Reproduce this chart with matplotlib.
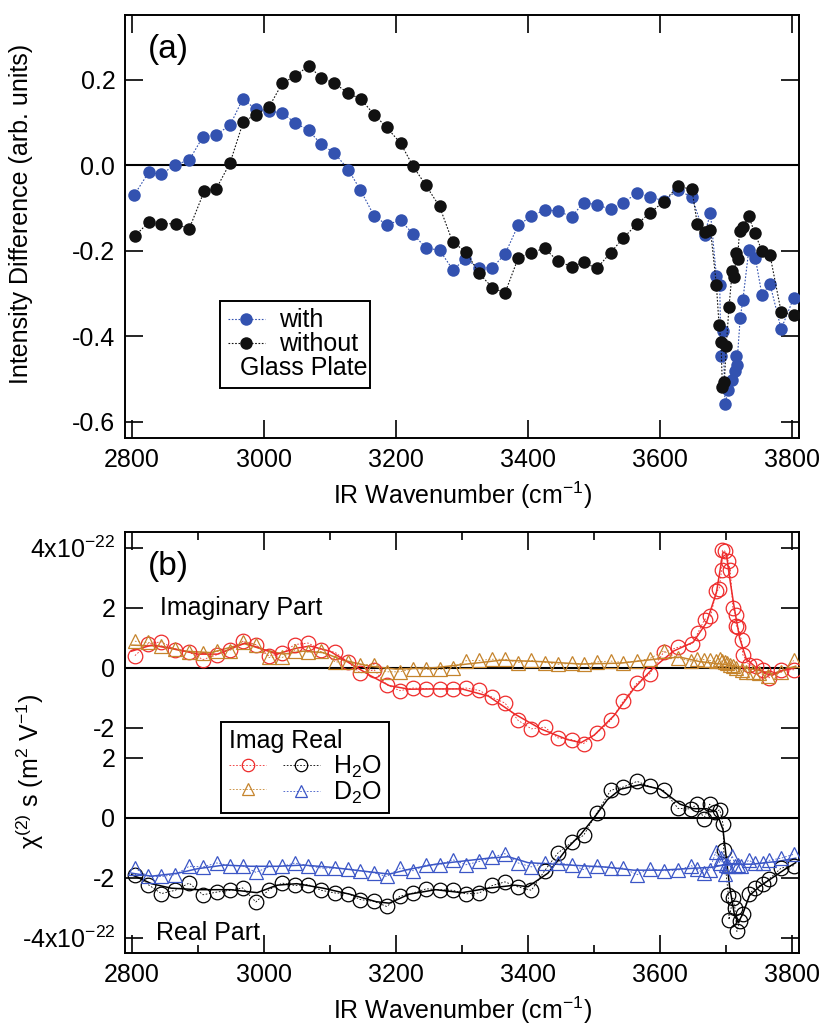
import numpy as np
import matplotlib
matplotlib.use('Agg')
import matplotlib.pyplot as plt
from matplotlib.lines import Line2D
from matplotlib.ticker import MultipleLocator, FormatStrFormatter

plt.rcParams['font.family'] = ['Liberation Sans', 'DejaVu Sans']
plt.rcParams['mathtext.fontset'] = 'custom'
plt.rcParams['mathtext.rm'] = 'Liberation Sans'
plt.rcParams['mathtext.it'] = 'Liberation Sans:italic'
plt.rcParams['mathtext.bf'] = 'Liberation Sans:bold'
plt.rcParams['axes.unicode_minus'] = False

# ---------------- panel (a): intensity difference ----------------
with_x = [2804, 2826, 2845, 2866, 2887, 2908, 2928, 2949, 2968, 2988, 3008, 3028, 3047, 3068,
          3087, 3107, 3128, 3146, 3167, 3186, 3207, 3226, 3246, 3266, 3286, 3305, 3326, 3346,
          3365, 3385, 3405, 3425, 3445, 3466, 3484, 3504, 3525, 3544, 3565, 3584, 3605, 3627,
          3648, 3667, 3676, 3685, 3690, 3692, 3695, 3698, 3703, 3708, 3713, 3715, 3716, 3721,
          3725, 3734, 3744, 3754, 3766, 3783, 3802]
with_y = [-0.069, -0.016, -0.021, 0.002, 0.012, 0.067, 0.072, 0.094, 0.155, 0.132, 0.127, 0.123,
          0.100, 0.082, 0.049, 0.029, -0.010, -0.057, -0.118, -0.139, -0.128, -0.161, -0.194,
          -0.198, -0.244, -0.220, -0.239, -0.239, -0.208, -0.140, -0.119, -0.104, -0.107,
          -0.120, -0.087, -0.092, -0.103, -0.087, -0.065, -0.073, -0.083, -0.057, -0.075,
          -0.162, -0.112, -0.259, -0.280, -0.447, -0.387, -0.558, -0.525, -0.502, -0.482,
          -0.447, -0.467, -0.357, -0.316, -0.198, -0.217, -0.304, -0.277, -0.383, -0.310]

without_x = [2805, 2826, 2845, 2867, 2887, 2910, 2928, 2949, 2969, 2988, 3008, 3028, 3047, 3068,
             3087, 3107, 3128, 3147, 3167, 3186, 3207, 3226, 3245, 3266, 3286, 3306, 3326, 3346,
             3365, 3385, 3405, 3425, 3445, 3466, 3484, 3504, 3525, 3544, 3565, 3584, 3605, 3627,
             3648, 3656, 3667, 3676, 3685, 3689, 3692, 3694, 3697, 3700, 3704, 3709, 3712, 3715,
             3717, 3720, 3725, 3734, 3743, 3754, 3766, 3783, 3802]
without_y = [-0.165, -0.133, -0.136, -0.137, -0.149, -0.060, -0.055, 0.006, 0.102, 0.119, 0.137,
             0.192, 0.209, 0.233, 0.205, 0.192, 0.169, 0.155, 0.119, 0.089, 0.052, -0.002,
             -0.046, -0.096, -0.180, -0.202, -0.253, -0.286, -0.299, -0.217, -0.204, -0.194,
             -0.224, -0.237, -0.227, -0.241, -0.204, -0.170, -0.137, -0.112, -0.085, -0.049,
             -0.056, -0.137, -0.157, -0.151, -0.280, -0.373, -0.414, -0.518, -0.506, -0.422,
             -0.332, -0.247, -0.261, -0.204, -0.220, -0.153, -0.144, -0.119, -0.158, -0.200,
             -0.209, -0.343, -0.351]

# ---------------- panel (b): chi(2) spectra (units of 1e-22 m^2/V) ----------------
wn = [2805, 2825, 2845, 2866, 2887, 2908, 2929, 2949, 2968, 2988, 3008, 3028, 3047, 3067, 3087,
      3108, 3128, 3146, 3167, 3186, 3206, 3226, 3246, 3266, 3286, 3306, 3326, 3346, 3365, 3385,
      3405, 3425, 3445, 3466, 3484, 3504, 3525, 3544, 3565, 3584, 3605, 3627]

imag_h2o_x = wn + [3648, 3657, 3667, 3676, 3685, 3689, 3693, 3694, 3698, 3703, 3706, 3710, 3714,
                   3715, 3718, 3723, 3725, 3734, 3745, 3756, 3765, 3783, 3803]
imag_h2o_y = [0.40, 0.80, 0.86, 0.60, 0.52, 0.27, 0.43, 0.60, 0.88, 0.77, 0.38, 0.49, 0.77, 0.82,
              0.60, 0.51, 0.18, -0.18, -0.07, -0.57, -0.77, -0.68, -0.70, -0.71, -0.71, -0.68,
              -0.76, -0.99, -1.18, -1.76, -2.04, -1.98, -2.34, -2.40, -2.53, -2.18, -1.76, -1.12,
              -0.51, -0.21, 0.51, 0.68,
              0.79, 1.16, 1.60, 1.71, 2.54, 2.62, 3.27, 3.91, 3.88, 3.54, 3.24, 1.99, 1.77, 1.40,
              1.34, 0.91, 0.43, 0.10, 0.04, -0.07, -0.34, -0.07, -0.07]

imag_d2o_x = wn + [3647, 3656, 3666, 3675, 3684, 3690, 3693, 3698, 3701, 3705, 3710, 3715, 3723,
                   3730, 3740, 3750, 3763, 3783, 3802]
imag_d2o_y = [0.88, 0.84, 0.73, 0.63, 0.52, 0.48, 0.54, 0.57, 0.87, 0.76, 0.34, 0.34, 0.57, 0.52,
              0.54, 0.19, 0.19, 0.10, 0.10, -0.14, -0.14, -0.03, -0.06, -0.06, 0.00, 0.23, 0.24,
              0.28, 0.28, 0.17, 0.24, 0.17, 0.11, 0.14, 0.11, 0.19, 0.22, 0.17, 0.22, 0.30, 0.55,
              0.32,
              0.21, 0.29, 0.27, 0.24, 0.21, 0.29, 0.21, 0.18, 0.16, 0.10, 0.04, -0.02, -0.07,
              -0.13, -0.13, -0.18, -0.29, -0.16, 0.24]

real_h2o_x = wn + [3647, 3656, 3666, 3675, 3683, 3690, 3695, 3696, 3703, 3704, 3710, 3713, 3716,
                   3720, 3725, 3735, 3743, 3755, 3765, 3783, 3802]
real_h2o_y = [-1.90, -2.23, -2.53, -2.42, -2.18, -2.57, -2.48, -2.42, -2.34, -2.81, -2.40, -2.18,
              -2.26, -2.23, -2.42, -2.51, -2.53, -2.73, -2.79, -2.96, -2.62, -2.51, -2.37, -2.40,
              -2.42, -2.54, -2.51, -2.26, -2.14, -2.31, -2.42, -1.77, -1.18, -0.82, -0.59, 0.16,
              0.91, 1.02, 1.21, 1.04, 0.91, 0.31,
              0.29, 0.47, -0.04, 0.45, 0.20, 0.26, -0.20, -1.07, -2.57, -3.40, -2.68, -3.01,
              -3.79, -3.43, -3.20, -2.55, -2.34, -2.22, -2.04, -1.68, -1.60]

real_d2o_x = wn + [3647, 3656, 3666, 3675, 3684, 3690, 3692, 3698, 3700, 3703, 3709, 3713, 3717,
                   3722, 3734, 3743, 3755, 3765, 3783, 3802]
real_d2o_y = [-1.68, -1.96, -1.96, -1.90, -1.62, -1.64, -1.51, -1.60, -1.60, -1.82, -1.64, -1.62,
              -1.51, -1.60, -1.68, -1.68, -1.71, -1.77, -1.84, -1.96, -1.68, -1.77, -1.57, -1.57,
              -1.40, -1.57, -1.46, -1.31, -1.20, -1.51, -1.64, -1.51, -1.51, -1.57, -1.73, -1.60,
              -1.68, -1.68, -1.90, -1.70, -1.77, -1.75,
              -1.60, -1.72, -1.85, -1.73, -1.15, -1.51, -1.34, -1.88, -1.57, -1.60, -1.27, -1.60,
              -1.57, -1.60, -1.42, -1.52, -1.52, -1.42, -1.35, -1.22]

# fitted curves
fit_imag_h2o_x = [2800, 2830, 2860, 2900, 2930, 2972, 3000, 3020, 3050, 3070, 3100, 3130, 3160,
                  3190, 3220, 3260, 3300, 3340, 3380, 3420, 3460, 3480, 3500, 3530, 3560, 3590,
                  3620, 3650, 3670, 3685, 3695, 3700, 3705, 3712, 3720, 3730, 3745, 3760, 3770,
                  3785, 3805]
fit_imag_h2o_y = [0.55, 0.75, 0.65, 0.45, 0.45, 0.82, 0.60, 0.45, 0.65, 0.72, 0.55, 0.15, -0.25,
                  -0.60, -0.72, -0.71, -0.71, -0.95, -1.55, -2.05, -2.40, -2.50, -2.25, -1.60,
                  -0.70, 0.00, 0.55, 0.85, 1.50, 2.50, 3.85, 3.80, 3.00, 2.00, 1.00, 0.30, 0.00,
                  -0.20, -0.25, -0.10, 0.00]

fit_imag_d2o_x = [2800, 2840, 2880, 2920, 2970, 3000, 3030, 3060, 3090, 3120, 3160, 3200, 3260,
                  3300, 3360, 3420, 3480, 3540, 3600, 3630, 3660, 3700, 3740, 3770, 3805]
fit_imag_d2o_y = [0.75, 0.72, 0.55, 0.50, 0.80, 0.60, 0.45, 0.55, 0.50, 0.25, 0.05, -0.05, 0.00,
                  0.10, 0.25, 0.20, 0.12, 0.15, 0.30, 0.35, 0.20, 0.10, -0.05, -0.20, 0.05]

fit_real_h2o_x = [2800, 2830, 2860, 2900, 2950, 2990, 3020, 3050, 3090, 3130, 3170, 3190, 3220,
                  3260, 3300, 3340, 3380, 3400, 3430, 3460, 3480, 3500, 3520, 3540, 3570, 3600,
                  3630, 3650, 3670, 3685, 3695, 3705, 3712, 3718, 3725, 3735, 3750, 3770, 3790,
                  3805]
fit_real_h2o_y = [-1.90, -2.20, -2.35, -2.40, -2.40, -2.50, -2.25, -2.20, -2.35, -2.55, -2.80,
                  -2.85, -2.55, -2.40, -2.50, -2.35, -2.25, -2.30, -1.85, -1.00, -0.55, 0.00,
                  0.60, 0.95, 1.10, 0.95, 0.45, 0.30, 0.30, 0.20, -0.40, -2.30, -3.20, -3.50,
                  -3.20, -2.60, -2.30, -2.00, -1.70, -1.50]

fit_real_d2o_x = [2800, 2830, 2870, 2900, 2940, 2980, 3020, 3060, 3100, 3150, 3190, 3220, 3260,
                  3300, 3340, 3370, 3400, 3440, 3480, 3520, 3560, 3600, 3640, 3680, 3700, 3740,
                  3780, 3805]
fit_real_d2o_y = [-1.85, -1.95, -1.85, -1.70, -1.58, -1.62, -1.62, -1.58, -1.65, -1.78, -1.88,
                  -1.72, -1.55, -1.45, -1.35, -1.30, -1.50, -1.55, -1.60, -1.65, -1.75, -1.75,
                  -1.70, -1.65, -1.55, -1.55, -1.45, -1.35]

real_offset = -5.0   # real part is drawn 5 units below the imaginary part
b_ticks = [4, 2, 0, -2, -3, -5, -7, -9]
b_ticklabels = ['4x10$^{-22}$', '2', '0', '-2', '2', '0', '-2', '-4x10$^{-22}$']

RED = '#ee2b2b'
ORANGE = '#c5842c'
BLUE_A = '#3352b0'
BLUE_B = '#3b56c6'
FS = 18


def style_axes(ax):
    ax.tick_params(which='both', direction='in', top=True, right=True, width=1.2,
                   labelsize=FS, pad=7)
    ax.tick_params(which='major', length=13)
    ax.tick_params(which='minor', length=6)
    for s in ax.spines.values():
        s.set_linewidth(1.4)


fig = plt.figure(figsize=(8.22, 10.25), dpi=100)
ax1 = fig.add_axes([125 / 822, 1 - 438 / 1025, 674 / 822, 423 / 1025])
ax2 = fig.add_axes([125 / 822, 1 - 953 / 1025, 674 / 822, 421 / 1025])

# ---- (a)
ax1.axhline(0, color='k', lw=1.5, zorder=1)
l_with, = ax1.plot(with_x, with_y, ls=(0, (1.5, 1.5)), lw=0.8, color=BLUE_A, marker='o',
                   ms=9, mec='none', zorder=3)
l_without, = ax1.plot(without_x, without_y, ls=(0, (1.5, 1.5)), lw=0.8, color='#111111',
                      marker='o', ms=9, mec='none', zorder=4)
ax1.set_xlim(2790, 3810)
ax1.set_ylim(-0.638, 0.352)
ax1.xaxis.set_major_locator(MultipleLocator(200))
ax1.yaxis.set_major_locator(MultipleLocator(0.2))
ax1.yaxis.set_major_formatter(FormatStrFormatter('%.1f'))
style_axes(ax1)
ax1.set_xlabel('IR Wavenumber (cm$^{-1}$)', fontsize=FS)
ax1.xaxis.set_label_coords(0.5, -0.098)
ax1.set_ylabel('Intensity Difference (arb. units)', fontsize=FS)
ax1.yaxis.set_label_coords(-0.137, 0.53)
ax1.text(0.034, 0.918, '(a)', transform=ax1.transAxes, fontsize=24, va='center')

blank = Line2D([], [], ls='none')
leg1 = ax1.legend([l_with, l_without, blank], ['with', 'without', ' ' * 12],
                  loc='upper left', bbox_to_anchor=(0.141, 0.324), borderaxespad=0,
                  fontsize=FS, handlelength=1.5, handletextpad=0.55, labelspacing=0.0,
                  borderpad=0.3, fancybox=False, framealpha=1, edgecolor='k')
leg1.get_frame().set_linewidth(1.4)
ax1.text(0.171, 0.165, 'Glass Plate', transform=ax1.transAxes, fontsize=FS, va='center',
         zorder=6)

# ---- (b)
ax2.axhline(0, color='k', lw=1.5, zorder=1)
ax2.axhline(real_offset, color='k', lw=1.5, zorder=1)

ax2.plot(fit_imag_d2o_x, fit_imag_d2o_y, color=ORANGE, lw=1.1, zorder=2)
ax2.plot(fit_imag_h2o_x, fit_imag_h2o_y, color=RED, lw=1.1, zorder=2)
ax2.plot(fit_real_d2o_x, np.array(fit_real_d2o_y) + real_offset, color=BLUE_B, lw=1.1, zorder=2)
ax2.plot(fit_real_h2o_x, np.array(fit_real_h2o_y) + real_offset, color='k', lw=1.1, zorder=2)

dash = (0, (2, 2))
h_ih, = ax2.plot(imag_h2o_x, imag_h2o_y, ls=dash, lw=0.6, color=RED, marker='o', ms=10.5,
                 mfc='none', mew=0.9, zorder=3)
h_id, = ax2.plot(imag_d2o_x, imag_d2o_y, ls=dash, lw=0.6, color=ORANGE, marker='^', ms=10.5,
                 mfc='none', mew=0.9, zorder=3)
h_rh, = ax2.plot(real_h2o_x, np.array(real_h2o_y) + real_offset, ls=dash, lw=0.6, color='k',
                 marker='o', ms=10.5, mfc='none', mew=0.9, zorder=3)
h_rd, = ax2.plot(real_d2o_x, np.array(real_d2o_y) + real_offset, ls=dash, lw=0.6, color=BLUE_B,
                 marker='^', ms=10.5, mfc='none', mew=0.9, zorder=3)

ax2.set_xlim(2790, 3810)
ax2.set_ylim(-9.51, 4.52)
ax2.xaxis.set_major_locator(MultipleLocator(200))
ax2.xaxis.set_minor_locator(MultipleLocator(100))
ax2.set_yticks(b_ticks)
ax2.set_yticklabels(b_ticklabels)
style_axes(ax2)
ax2.set_xlabel('IR Wavenumber (cm$^{-1}$)', fontsize=FS)
ax2.xaxis.set_label_coords(0.5, -0.1)
ax2.set_ylabel('χ$^{(2)}$ s (m$^{2}$ V$^{-1}$)', fontsize=FS)
ax2.yaxis.set_label_coords(-0.117, 0.432)
ax2.text(0.034, 0.917, '(b)', transform=ax2.transAxes, fontsize=24, va='center')
ax2.text(2843, 2.0, 'Imaginary Part', fontsize=FS, va='center')
ax2.text(2837, -8.83, 'Real Part', fontsize=FS, va='center')

leg2 = ax2.legend([h_ih, h_id, h_rh, h_rd], ['', '', 'H$_2$O', 'D$_2$O'], ncol=2,
                  title='Imag Real', title_fontsize=FS, alignment='left',
                  loc='upper left', bbox_to_anchor=(0.143, 0.549), borderaxespad=0,
                  fontsize=FS, handlelength=1.5, handletextpad=0.5, columnspacing=0.15,
                  labelspacing=0.0, borderpad=0.3, markerscale=0.85, fancybox=False,
                  framealpha=1, edgecolor='k')
leg2.get_frame().set_linewidth(1.4)

fig.savefig('out.png', dpi=100)
